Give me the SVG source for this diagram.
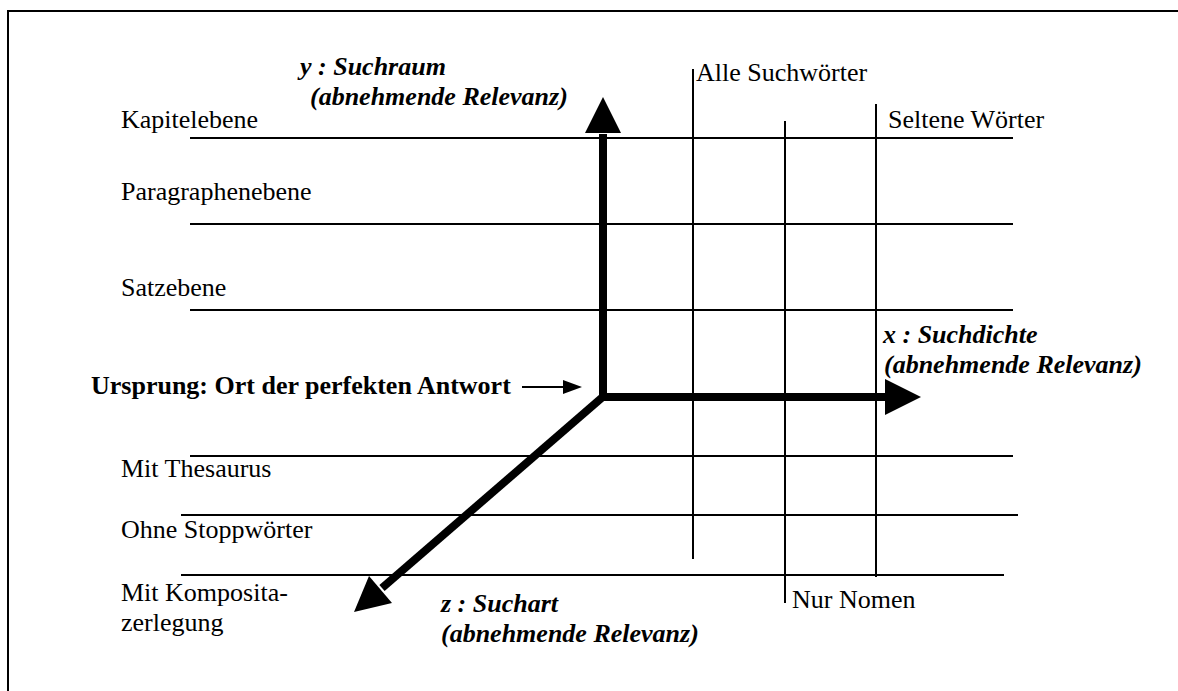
<svg xmlns="http://www.w3.org/2000/svg" width="1178" height="691" viewBox="0 0 1178 691">
<style>
text{font-family:"Liberation Serif","Times New Roman",serif;font-size:26px;fill:#000}
.bi{font-weight:bold;font-style:italic}
.b{font-weight:bold}
.grid line{stroke:#000;stroke-width:2}
.axis{stroke:#000;stroke-width:8;fill:none;stroke-linejoin:miter}
.head{fill:#000}
</style>
<rect width="1178" height="691" fill="#fff"/>
<path d="M8,691 V11 H1178" fill="none" stroke="#000" stroke-width="2"/>
<g id="grid" class="grid">
<line x1="190" y1="138" x2="1013" y2="138"/>
<line x1="190" y1="224" x2="1013" y2="224"/>
<line x1="190" y1="310" x2="1013" y2="310"/>
<line x1="190" y1="456" x2="1013" y2="456"/>
<line x1="181" y1="515" x2="1018" y2="515"/>
<line x1="181" y1="575" x2="1004" y2="575"/>
<line x1="693" y1="69" x2="693" y2="559"/>
<line x1="785" y1="121" x2="785" y2="603"/>
<line x1="876" y1="104" x2="876" y2="577"/>
</g>
<g id="connectors">
<path class="axis" d="M603,134 V397 H887"/>
<line class="axis" x1="605" y1="395" x2="382" y2="588"/>
<polygon class="head" points="603,97 585,133 621,133"/>
<polygon class="head" points="921,397 885,379 885,415"/>
<polygon class="head" points="354,612 369,576 392,603"/>
<line x1="522" y1="387" x2="566" y2="387" stroke="#000" stroke-width="2"/>
<polygon class="head" points="582,387 563,380 563,394"/>
</g>
<g id="y-label"><text class="bi" x="300" y="75">y : Suchraum</text><text class="bi" x="310" y="105">(abnehmende Relevanz)</text></g>
<g id="x-label"><text class="bi" x="883" y="343">x : Suchdichte</text><text class="bi" x="884" y="373">(abnehmende Relevanz)</text></g>
<g id="z-label"><text class="bi" x="441" y="612">z : Suchart</text><text class="bi" x="441" y="642">(abnehmende Relevanz)</text></g>
<g id="origin"><text class="b" x="91" y="394">Ursprung: Ort der perfekten Antwort</text></g>
<g id="kapitel"><text x="121" y="128">Kapitelebene</text></g>
<g id="paragraph"><text x="121" y="200">Paragraphenebene</text></g>
<g id="satz"><text x="121" y="296">Satzebene</text></g>
<g id="thesaurus"><text x="121" y="477">Mit Thesaurus</text></g>
<g id="stopp"><text x="121" y="538">Ohne Stoppwörter</text></g>
<g id="komposita"><text x="121" y="601">Mit Komposita-</text><text x="121" y="631">zerlegung</text></g>
<g id="alle"><text x="696" y="81">Alle Suchwörter</text></g>
<g id="selten"><text x="888" y="128">Seltene Wörter</text></g>
<g id="nomen"><text x="792" y="608">Nur Nomen</text></g>
</svg>
